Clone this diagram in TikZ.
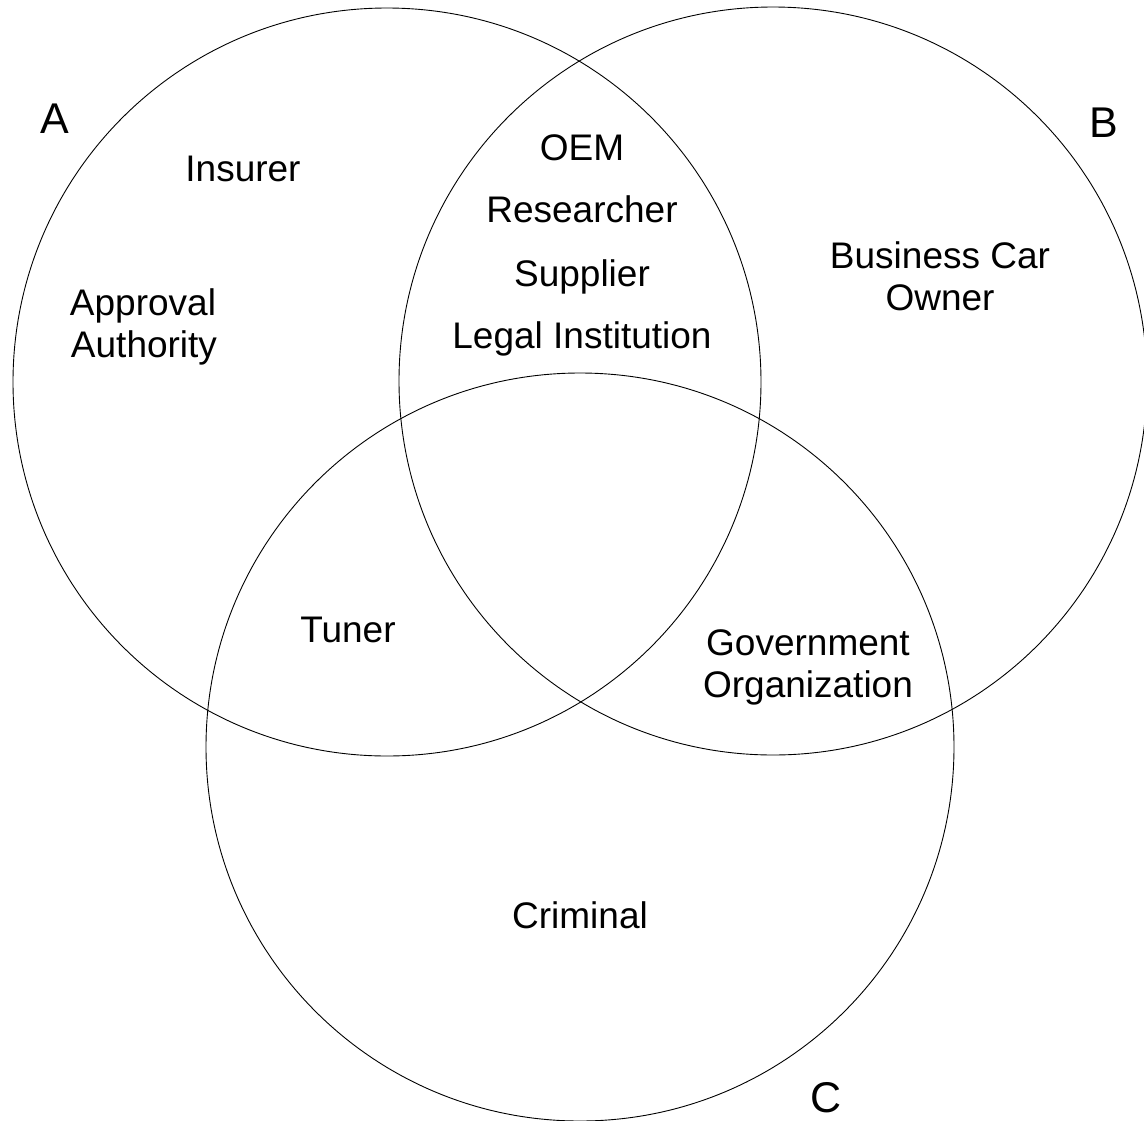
\documentclass[tikz,border=0pt]{standalone}
\usepackage{fontspec}
\setmainfont{Liberation Sans}
\begin{document}
\begin{tikzpicture}[x=1pt,y=-1pt,
  setcircle/.style={draw=black, line width=0.9pt, circle, minimum size=748pt, inner sep=0pt, outer sep=0pt},
  lbl/.style={font=\fontsize{37}{42}\selectfont, anchor=base, inner sep=0pt},
  setname/.style={font=\fontsize{43}{50}\selectfont, anchor=base, inner sep=0pt}]
\useasboundingbox (0,0) rectangle (1144,1120);
% sets
\node[setcircle] (cA) at (387,382) {};
\node[setcircle] (cB) at (773,381) {};
\node[setcircle] (cC) at (580,747) {};
% set names
\node[setname] (nA) at (55,133) {A};
\node[setname] (nB) at (1104,137) {B};
\node[setname] (nC) at (826,1112) {C};
% A only
\node[lbl] (insurer) at (243,181) {Insurer};
\node[lbl] (appr1) at (143,315) {Approval};
\node[lbl] (appr2) at (144,357) {Authority};
% A and B
\node[lbl] (oem) at (582,160) {OEM};
\node[lbl] (res) at (582,222) {Researcher};
\node[lbl] (sup) at (582,286) {Supplier};
\node[lbl] (legal) at (582,348) {Legal Institution};
% B only
\node[lbl] (bco1) at (940,268) {Business Car};
\node[lbl] (bco2) at (940,310) {Owner};
% A and C
\node[lbl] (tuner) at (348,642) {Tuner};
% B and C
\node[lbl] (gov1) at (808,655) {Government};
\node[lbl] (gov2) at (808,697) {Organization};
% C only
\node[lbl] (crim) at (580,928) {Criminal};
\end{tikzpicture}
\end{document}
